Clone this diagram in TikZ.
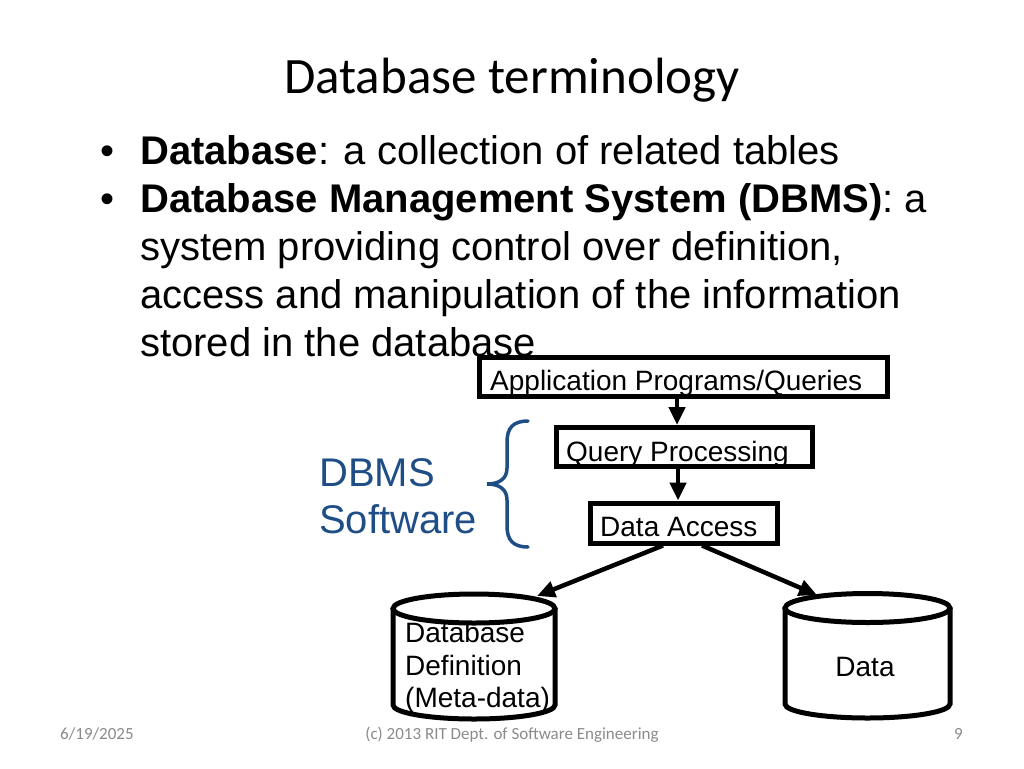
\documentclass[tikz,border=0pt]{standalone}
\usepackage{fontspec}
\setmainfont{Liberation Sans}
\newfontfamily\calibri{Carlito}
\usetikzlibrary{arrows.meta}
\definecolor{dbblue}{HTML}{1F4E86}
\definecolor{footgray}{HTML}{8A8A8A}
\tikzset{
  boxnode/.style={draw, line width=5pt, inner sep=0pt},
  lbl/.style={anchor=base west, inner sep=0pt, font=\fontsize{28}{33}\selectfont},
  bul/.style={anchor=base west, inner sep=0pt, font=\fontsize{40}{48}\selectfont},
  arr/.style={line width=4.5pt, -{Triangle[length=18pt,width=16pt]}},
  cyl/.style={line width=5pt},
  foot/.style={inner sep=0pt, text=footgray, font=\calibri\fontsize{17}{19}\selectfont}
}
\begin{document}
\begin{tikzpicture}[x=1pt,y=-1pt]
\useasboundingbox (0,0) rectangle (1024,768);
% title
\node[inner sep=0pt, anchor=base, font=\calibri\fontsize{51}{60}\selectfont] (title) at (512,93) {Database terminology};
% bullets
\node[bul] (b1) at (100,164) {\textbullet};
\node[bul] (t1) at (140,164) {\textbf{Database}: a collection of related tables};
\node[bul] (b2) at (100,212) {\textbullet};
\node[bul] (t2) at (140,212) {\textbf{Database Management System (DBMS)}: a};
\node[bul] (t3) at (140,260) {system providing control over definition,};
\node[bul] (t4) at (140,308) {access and manipulation of the information};
\node[bul] (t5) at (140,356) {stored in the database};
% boxes
\node[boxnode, minimum width=408pt, minimum height=39pt] (app) at (683,376.5) {};
\node[lbl] (appt) at (490,390) {Application Programs/Queries};
\node[boxnode, minimum width=256pt, minimum height=39pt] (qp) at (684,447) {};
\node[lbl] (qpt) at (566,461) {Query Processing};
\node[boxnode, minimum width=187pt, minimum height=40pt] (da) at (683.5,523) {};
\node[lbl] (dat) at (600,536) {Data Access};
\coordinate (ax) at (677,0);
\coordinate (bx) at (678,0);
\draw[arr] (app.south -| ax) -- (qp.north -| ax);
\draw[arr] (qp.south -| bx) -- (da.north -| bx);
% cylinders
\draw[cyl, fill=white] (393,608.5) -- (393,705) arc[start angle=180, end angle=0, x radius=81, y radius=14] -- (555,608.5);
\node[lbl] (c1a) at (405,642) {Database};
\node[lbl] (c1b) at (405,675) {Definition};
\node[lbl] (c1c) at (405,707) {(Meta-data)};
\draw[cyl, fill=white] (474,608.5) ellipse[x radius=81, y radius=14.5];
\draw[cyl, fill=white] (785,608) -- (785,704) arc[start angle=180, end angle=0, x radius=82.5, y radius=14] -- (950,608);
\draw[cyl, fill=white] (867.5,608) ellipse[x radius=82.5, y radius=14.5];
\node[lbl, anchor=base] (c2) at (865,676) {Data};
\coordinate (lt) at (537,596);
\coordinate (rt) at (817,595);
\coordinate (ls) at (663,0);
\coordinate (rs) at (702,0);
\draw[arr] (da.south -| ls) -- (lt);
\draw[arr] (da.south -| rs) -- (rt);
% brace
\draw[dbblue, line width=3.5pt, line cap=round]
  (528,421) .. controls (513,421) and (507,428) .. (507,442)
  -- (507,468) .. controls (507,479) and (499,484) .. (487,484)
  .. controls (499,484) and (507,489) .. (507,500)
  -- (507,526) .. controls (507,540) and (513,547) .. (528,547);
\node[anchor=base west, inner sep=0pt, text=dbblue, font=\fontsize{40}{47}\selectfont] (sw1) at (319,486) {DBMS};
\node[anchor=base west, inner sep=0pt, text=dbblue, font=\fontsize{40}{47}\selectfont] (sw2) at (319,533) {Software};
% footer
\node[foot, anchor=base west] (date) at (60,739) {6/19/2025};
\node[foot, anchor=base] (copy) at (512,739) {(c) 2013 RIT Dept. of Software Engineering};
\node[foot, anchor=base east] (pg) at (963,739) {9};
\end{tikzpicture}
\end{document}
